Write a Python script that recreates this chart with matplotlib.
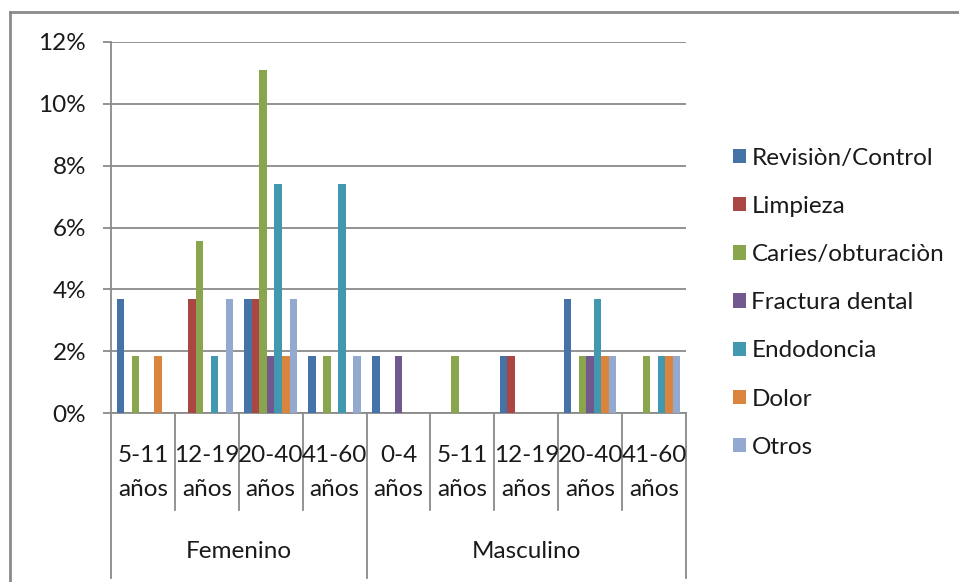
import numpy as np
import matplotlib
matplotlib.use("Agg")
import matplotlib.pyplot as plt
from matplotlib.lines import Line2D
from matplotlib.patches import Patch
from matplotlib.ticker import FuncFormatter

plt.rcParams["font.family"] = ["Lato", "DejaVu Sans"]

# ---------------------------------------------------------------- data
sexes = ["Femenino", "Masculino"]
age_f = ["5-11", "12-19", "20-40", "41-60"]
age_m = ["0-4", "5-11", "12-19", "20-40", "41-60"]
series = ["Revisiòn/Control", "Limpieza", "Caries/obturaciòn", "Fractura dental",
          "Endodoncia", "Dolor", "Otros"]
colors = ["#4572A7", "#AA4643", "#89A54E", "#71588F", "#4198AF", "#DB843D", "#93A9CF"]

# share of consultations (%), one row per series, one column per age group
revision = [3.70, 0.00, 3.70, 1.85, 1.85, 0.00, 1.85, 3.70, 0.00]
limpieza = [0.00, 3.70, 3.70, 0.00, 0.00, 0.00, 1.85, 0.00, 0.00]
caries   = [1.85, 5.56, 11.11, 1.85, 0.00, 1.85, 0.00, 1.85, 1.85]
fractura = [0.00, 0.00, 1.85, 0.00, 1.85, 0.00, 0.00, 1.85, 0.00]
endodon  = [0.00, 1.85, 7.41, 7.41, 0.00, 0.00, 0.00, 3.70, 1.85]
dolor    = [1.85, 0.00, 1.85, 0.00, 0.00, 0.00, 0.00, 1.85, 1.85]
otros    = [0.00, 3.70, 3.70, 1.85, 0.00, 0.00, 0.00, 1.85, 1.85]
values = [revision, limpieza, caries, fractura, endodon, dolor, otros]

W, H = 959, 582
FS = 17.5
GRAY = "#8a8a8a"
TXT = "#1a1a1a"


def fy(py):
    """pixel row (from top) -> figure fraction"""
    return 1 - py / H


fig = plt.figure(figsize=(W / 100, H / 100), dpi=100)
ax = fig.add_axes([111 / W, fy(413), (686 - 111) / W, (413 - 42) / H])

n_cat = len(age_f) + len(age_m)
x = np.arange(n_cat)
bw = 1 / 8.5
for j, (vals, name, c) in enumerate(zip(values, series, colors)):
    ax.bar(x + (j - 3) * bw, np.array(vals) / 100, width=bw, color=c,
           label=name, zorder=3, linewidth=0)

ax.set_xlim(-0.5, n_cat - 0.5)
ax.set_ylim(0, 0.12)
ax.set_yticks(np.arange(0, 0.121, 0.02))
ax.yaxis.set_major_formatter(FuncFormatter(lambda v, _: f"{v * 100:.0f}%"))
ax.tick_params(axis="y", length=6, width=1.3, color=GRAY, pad=12, labelsize=FS,
               labelcolor=TXT)
ax.set_xticks([])
ax.grid(axis="y", color=GRAY, linewidth=1.3, zorder=0)
for s in ["top", "right"]:
    ax.spines[s].set_visible(False)
for s in ["left", "bottom"]:
    ax.spines[s].set_color(GRAY)
    ax.spines[s].set_linewidth(1.3)

# two-level category axis
tr = ax.get_xaxis_transform()
ah = 413 - 42
inner_low = -(510 - 413) / ah
outer_low = -(578 - 413) / ah
ages = age_f + age_m
for k in range(n_cat + 1):
    edge = k - 0.5
    low = outer_low if k in (0, len(age_f), n_cat) else inner_low
    ax.add_line(Line2D([edge, edge], [0, low], transform=tr, color=GRAY,
                       linewidth=1.3, clip_on=False))
for k, a in enumerate(ages):
    ax.text(k, -(455 - 413) / ah, a, transform=tr, ha="center", va="center",
            fontsize=FS, color=TXT)
    ax.text(k, -(489 - 413) / ah, "años", transform=tr, ha="center", va="center",
            fontsize=FS, color=TXT)
ax.text((len(age_f) - 1) / 2, -(552 - 413) / ah, sexes[0], transform=tr,
        ha="center", va="center", fontsize=FS, color=TXT)
ax.text(len(age_f) + (len(age_m) - 1) / 2, -(552 - 413) / ah, sexes[1], transform=tr,
        ha="center", va="center", fontsize=FS, color=TXT)

# legend
handles = [Patch(facecolor=c, edgecolor="none") for c in colors]
fig.legend(handles, series, loc="upper left", bbox_to_anchor=(733 / W, fy(147.5)),
           frameon=False, fontsize=FS, labelspacing=1.12, handlelength=0.54,
           handleheight=0.54, handletextpad=0.22, borderpad=0, borderaxespad=0,
           labelcolor=TXT)

# chart border (left and top edges only fall inside the canvas)
fig.add_artist(Line2D([10 / W, 10 / W], [0, fy(12)], color=GRAY, linewidth=2))
fig.add_artist(Line2D([10 / W, 1], [fy(12), fy(12)], color=GRAY, linewidth=2))

fig.savefig("out.png", dpi=100)
